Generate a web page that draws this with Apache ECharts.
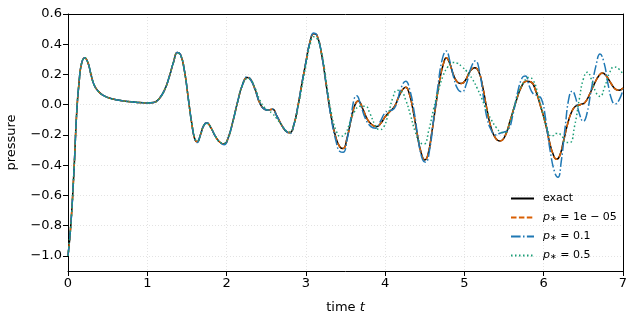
<!DOCTYPE html>
<html><head><meta charset="utf-8">
<script src="https://cdn.jsdelivr.net/npm/echarts@6/dist/echarts.min.js"></script>
<style>html,body{margin:0;padding:0;background:#fff}#c{width:631px;height:316px}</style>
</head><body><div id="c"></div>
<script>
// ---- data ----
const xTicks = [0,1,2,3,4,5,6,7];
const yTicks = [-1.0,-0.8,-0.6,-0.4,-0.2,0.0,0.2,0.4,0.6];
const seriesNames = ['exact','1e-05','0.1','0.5'];

const exactData = [[0,-1.00],[0.035,-0.80],[0.075,-0.44],[0.11,-0.05],[0.14,0.15],[0.17,0.27],[0.21,0.31],[0.25,0.28],[0.29,0.20],[0.33,0.13],[0.38,0.09],[0.45,0.06],[0.55,0.04],[0.70,0.025],[0.85,0.017],[1.00,0.012],[1.08,0.015],[1.15,0.04],[1.22,0.10],[1.28,0.19],[1.33,0.28],[1.38,0.345],[1.42,0.33],[1.47,0.22],[1.52,0.03],[1.56,-0.12],[1.60,-0.23],[1.63,-0.245],[1.67,-0.20],[1.71,-0.14],[1.75,-0.12],[1.80,-0.15],[1.86,-0.21],[1.92,-0.25],[1.97,-0.26],[2.02,-0.22],[2.08,-0.11],[2.14,0.02],[2.20,0.13],[2.26,0.18],[2.30,0.17],[2.36,0.10],[2.42,0.01],[2.48,-0.03],[2.53,-0.035],[2.58,-0.03],[2.63,-0.07],[2.70,-0.14],[2.76,-0.18],[2.80,-0.185],[2.85,-0.13],[2.90,-0.01],[2.95,0.14],[3.00,0.28],[3.05,0.41],[3.10,0.47],[3.14,0.46],[3.20,0.33],[3.26,0.12],[3.32,-0.08],[3.38,-0.22],[3.43,-0.28],[3.47,-0.29],[3.52,-0.22],[3.57,-0.10],[3.62,0.00],[3.66,0.025],[3.72,-0.03],[3.78,-0.10],[3.84,-0.135],[3.89,-0.145],[3.95,-0.12],[4.00,-0.08],[4.06,-0.045],[4.12,-0.01],[4.17,0.05],[4.22,0.10],[4.26,0.115],[4.30,0.08],[4.35,-0.03],[4.40,-0.18],[4.45,-0.31],[4.50,-0.365],[4.54,-0.33],[4.59,-0.18],[4.64,0.00],[4.69,0.17],[4.74,0.28],[4.77,0.31],[4.81,0.28],[4.86,0.20],[4.91,0.15],[4.96,0.14],[5.01,0.16],[5.07,0.22],[5.13,0.245],[5.18,0.22],[5.23,0.12],[5.28,-0.02],[5.33,-0.14],[5.39,-0.22],[5.45,-0.24],[5.51,-0.21],[5.58,-0.10],[5.65,0.02],[5.72,0.12],[5.78,0.155],[5.84,0.15],[5.90,0.09],[5.96,-0.01],[6.02,-0.12],[6.07,-0.24],[6.12,-0.33],[6.16,-0.36],[6.20,-0.34],[6.25,-0.24],[6.30,-0.13],[6.35,-0.05],[6.40,-0.01],[6.46,0.00],[6.52,0.015],[6.58,0.07],[6.64,0.14],[6.70,0.195],[6.74,0.21],[6.79,0.19],[6.85,0.14],[6.90,0.105],[6.95,0.095],[7.00,0.11]];

const p1e5Data = [[0,-1.00],[0.035,-0.80],[0.075,-0.44],[0.11,-0.05],[0.14,0.15],[0.17,0.27],[0.21,0.31],[0.25,0.28],[0.29,0.20],[0.33,0.13],[0.38,0.09],[0.45,0.06],[0.55,0.04],[0.70,0.025],[0.85,0.017],[1.00,0.012],[1.08,0.015],[1.15,0.04],[1.22,0.10],[1.28,0.19],[1.33,0.28],[1.38,0.345],[1.42,0.33],[1.47,0.22],[1.52,0.03],[1.56,-0.12],[1.60,-0.23],[1.63,-0.245],[1.67,-0.20],[1.71,-0.14],[1.75,-0.12],[1.80,-0.15],[1.86,-0.21],[1.92,-0.25],[1.97,-0.26],[2.02,-0.22],[2.08,-0.11],[2.14,0.02],[2.20,0.13],[2.26,0.18],[2.30,0.17],[2.36,0.10],[2.42,0.01],[2.48,-0.03],[2.53,-0.035],[2.58,-0.03],[2.63,-0.07],[2.70,-0.14],[2.76,-0.18],[2.80,-0.185],[2.85,-0.13],[2.90,-0.01],[2.95,0.14],[3.00,0.28],[3.05,0.41],[3.10,0.47],[3.14,0.46],[3.20,0.33],[3.26,0.12],[3.32,-0.08],[3.38,-0.22],[3.43,-0.28],[3.47,-0.29],[3.52,-0.22],[3.57,-0.10],[3.62,0.00],[3.66,0.025],[3.72,-0.03],[3.78,-0.10],[3.84,-0.135],[3.89,-0.145],[3.95,-0.12],[4.00,-0.08],[4.06,-0.045],[4.12,-0.01],[4.17,0.05],[4.22,0.10],[4.26,0.115],[4.30,0.08],[4.35,-0.03],[4.40,-0.18],[4.45,-0.31],[4.50,-0.365],[4.54,-0.33],[4.59,-0.18],[4.64,0.00],[4.69,0.17],[4.74,0.28],[4.77,0.31],[4.81,0.28],[4.86,0.20],[4.91,0.15],[4.96,0.14],[5.01,0.16],[5.07,0.22],[5.13,0.245],[5.18,0.22],[5.23,0.12],[5.28,-0.02],[5.33,-0.14],[5.39,-0.22],[5.45,-0.24],[5.51,-0.21],[5.58,-0.10],[5.65,0.02],[5.72,0.12],[5.78,0.155],[5.84,0.15],[5.90,0.09],[5.96,-0.01],[6.02,-0.12],[6.07,-0.24],[6.12,-0.33],[6.16,-0.36],[6.20,-0.34],[6.25,-0.24],[6.30,-0.13],[6.35,-0.05],[6.40,-0.01],[6.46,0.00],[6.52,0.015],[6.58,0.07],[6.64,0.14],[6.70,0.195],[6.74,0.21],[6.79,0.19],[6.85,0.14],[6.90,0.105],[6.95,0.095],[7.00,0.11]];

const p01Data = [[0,-1.00],[0.035,-0.80],[0.075,-0.44],[0.11,-0.05],[0.14,0.15],[0.17,0.27],[0.21,0.31],[0.25,0.28],[0.29,0.20],[0.33,0.13],[0.38,0.09],[0.45,0.06],[0.55,0.04],[0.70,0.025],[0.85,0.017],[1.00,0.012],[1.08,0.015],[1.15,0.04],[1.22,0.10],[1.28,0.19],[1.33,0.28],[1.38,0.345],[1.42,0.33],[1.47,0.22],[1.52,0.03],[1.56,-0.12],[1.60,-0.23],[1.63,-0.25],[1.67,-0.20],[1.71,-0.14],[1.75,-0.12],[1.80,-0.15],[1.86,-0.21],[1.92,-0.25],[1.97,-0.265],[2.02,-0.22],[2.08,-0.11],[2.14,0.02],[2.20,0.13],[2.26,0.185],[2.30,0.17],[2.36,0.10],[2.42,0.01],[2.48,-0.03],[2.53,-0.035],[2.58,-0.03],[2.63,-0.07],[2.70,-0.14],[2.76,-0.18],[2.80,-0.19],[2.85,-0.13],[2.90,-0.01],[2.95,0.14],[3.00,0.28],[3.05,0.41],[3.10,0.475],[3.14,0.46],[3.20,0.33],[3.26,0.12],[3.32,-0.09],[3.38,-0.24],[3.43,-0.31],[3.47,-0.315],[3.52,-0.23],[3.57,-0.08],[3.61,0.04],[3.64,0.06],[3.69,0.00],[3.75,-0.09],[3.82,-0.145],[3.88,-0.155],[3.94,-0.11],[3.99,-0.06],[4.04,-0.04],[4.09,-0.035],[4.14,0.00],[4.20,0.11],[4.26,0.155],[4.31,0.10],[4.37,-0.06],[4.42,-0.24],[4.47,-0.36],[4.51,-0.38],[4.56,-0.30],[4.61,-0.10],[4.66,0.10],[4.72,0.30],[4.77,0.355],[4.82,0.28],[4.87,0.17],[4.92,0.10],[4.97,0.085],[5.02,0.13],[5.08,0.24],[5.14,0.29],[5.19,0.22],[5.24,0.05],[5.29,-0.10],[5.34,-0.17],[5.39,-0.20],[5.44,-0.19],[5.50,-0.18],[5.55,-0.17],[5.61,-0.07],[5.67,0.08],[5.73,0.18],[5.77,0.19],[5.82,0.12],[5.87,0.07],[5.92,0.06],[5.97,0.04],[6.02,-0.08],[6.08,-0.30],[6.14,-0.45],[6.18,-0.48],[6.22,-0.38],[6.27,-0.15],[6.32,0.05],[6.36,0.09],[6.40,0.05],[6.45,-0.06],[6.50,-0.11],[6.54,-0.07],[6.60,0.10],[6.66,0.26],[6.71,0.335],[6.76,0.28],[6.81,0.14],[6.86,0.03],[6.90,0.005],[6.95,0.03],[7.00,0.10]];

const p05Data = [[0,-1.00],[0.035,-0.80],[0.075,-0.44],[0.11,-0.05],[0.14,0.15],[0.17,0.27],[0.21,0.31],[0.25,0.28],[0.29,0.20],[0.33,0.13],[0.38,0.09],[0.45,0.06],[0.55,0.04],[0.70,0.025],[0.85,0.017],[1.00,0.012],[1.08,0.015],[1.15,0.04],[1.22,0.10],[1.28,0.19],[1.33,0.28],[1.38,0.34],[1.42,0.33],[1.47,0.22],[1.52,0.03],[1.56,-0.12],[1.60,-0.22],[1.63,-0.24],[1.67,-0.20],[1.71,-0.14],[1.75,-0.125],[1.80,-0.15],[1.86,-0.21],[1.92,-0.25],[1.97,-0.255],[2.02,-0.22],[2.08,-0.11],[2.14,0.02],[2.20,0.13],[2.26,0.17],[2.30,0.165],[2.36,0.11],[2.42,0.03],[2.48,-0.02],[2.53,-0.04],[2.58,-0.06],[2.63,-0.09],[2.70,-0.14],[2.76,-0.175],[2.80,-0.18],[2.85,-0.13],[2.90,-0.02],[2.95,0.12],[3.00,0.26],[3.05,0.39],[3.10,0.45],[3.14,0.44],[3.20,0.34],[3.26,0.14],[3.32,-0.05],[3.38,-0.17],[3.44,-0.21],[3.50,-0.19],[3.56,-0.11],[3.62,-0.04],[3.68,-0.01],[3.75,-0.01],[3.81,-0.06],[3.87,-0.13],[3.93,-0.165],[3.98,-0.15],[4.04,-0.06],[4.10,0.05],[4.15,0.095],[4.20,0.09],[4.26,0.03],[4.32,-0.07],[4.38,-0.18],[4.44,-0.25],[4.49,-0.26],[4.55,-0.17],[4.61,-0.03],[4.67,0.09],[4.73,0.19],[4.79,0.25],[4.85,0.28],[4.91,0.275],[4.97,0.25],[5.03,0.22],[5.10,0.17],[5.16,0.11],[5.22,0.04],[5.28,-0.04],[5.34,-0.10],[5.40,-0.15],[5.46,-0.18],[5.51,-0.185],[5.57,-0.12],[5.63,-0.01],[5.69,0.09],[5.75,0.15],[5.81,0.18],[5.87,0.16],[5.93,0.06],[5.99,-0.06],[6.05,-0.17],[6.10,-0.21],[6.16,-0.19],[6.22,-0.20],[6.28,-0.25],[6.33,-0.25],[6.39,-0.14],[6.45,0.04],[6.50,0.17],[6.55,0.215],[6.60,0.17],[6.66,0.08],[6.71,0.055],[6.77,0.12],[6.83,0.21],[6.89,0.25],[6.95,0.235],[7.00,0.20]];

// ---- chart ----
const colors = ['#000000','#d95f02','#1f78b4','#1b9e77'];
const dashes = ['solid',[5.5,2.4],[9.6,2.4,1.5,2.4],[1.5,2.5]];
const datasets = [exactData,p1e5Data,p01Data,p05Data];
const font = 'DejaVu Sans';
const minus = s => String(s).replace(/-/g,'\u2212');
const frameAxis = {show:true,onZero:false,lineStyle:{color:'#000',width:1}};

const chart = echarts.init(document.getElementById('c'), null, {renderer:'canvas'});
chart.setOption({
  animation:false,
  backgroundColor:'#fff',
  grid:{left:68,right:8,top:14,bottom:45,show:false,outerBoundsMode:'none',containLabel:false},
  xAxis:[{type:'value',min:0,max:7,interval:1,
    name:'time {i|t}',nameLocation:'middle',nameGap:30,
    nameTextStyle:{fontFamily:font,fontSize:13,color:'#000',rich:{i:{fontFamily:font,fontStyle:'italic',fontSize:13,color:'#000'}}},
    axisLine:frameAxis,
    axisTick:{show:true,length:5,lineStyle:{color:'#000'}},
    axisLabel:{fontFamily:font,fontSize:13,color:'#000',margin:6,formatter:v=>String(v)},
    splitLine:{show:true,lineStyle:{color:'#dcdcdc',type:[1,2],width:0.8}}
  },{type:'value',position:'top',min:0,max:7,interval:1,axisLine:frameAxis,axisTick:{show:false},axisLabel:{show:false},splitLine:{show:false}}],
  yAxis:[{type:'value',min:-1.1,max:0.6,
    name:'pressure',nameLocation:'middle',nameGap:50,
    nameTextStyle:{fontFamily:font,fontSize:13,color:'#000'},
    axisLine:frameAxis,
    axisTick:{show:true,length:5,lineStyle:{color:'#000'},customValues:yTicks},
    axisLabel:{fontFamily:font,fontSize:13,color:'#000',margin:6,customValues:yTicks,formatter:v=>minus(v.toFixed(1))},
    splitLine:{show:true,lineStyle:{color:'#dcdcdc',type:[1,2],width:0.8}}
  },{type:'value',position:'right',min:-1.1,max:0.6,axisLine:frameAxis,axisTick:{show:false},axisLabel:{show:false},splitLine:{show:false}}],
  legend:{orient:'vertical',left:505,top:188,itemWidth:23,itemHeight:10,itemGap:8,
    itemStyle:{opacity:0,borderWidth:0},
    textStyle:{fontFamily:font,fontSize:11,color:'#000',padding:[0,0,0,4],
      rich:{i:{fontFamily:font,fontStyle:'italic',fontSize:11,color:'#000'},s:{fontFamily:font,fontSize:8,color:'#000',verticalAlign:'bottom'}}},
    formatter:n=> n==='exact' ? 'exact' : '{i|p}{s|\u2217} = '+(n==='1e-05'?'1e \u2212 05':n),
    data:seriesNames
  },
  series:seriesNames.map((n,i)=>({
    name:n,type:'line',data:datasets[i],showSymbol:false,symbol:'none',
    smooth:0.5,
    lineStyle:{color:colors[i],width:1.5,type:dashes[i]},
    itemStyle:{color:colors[i]},
    z:2+i
  }))
});
</script></body></html>
